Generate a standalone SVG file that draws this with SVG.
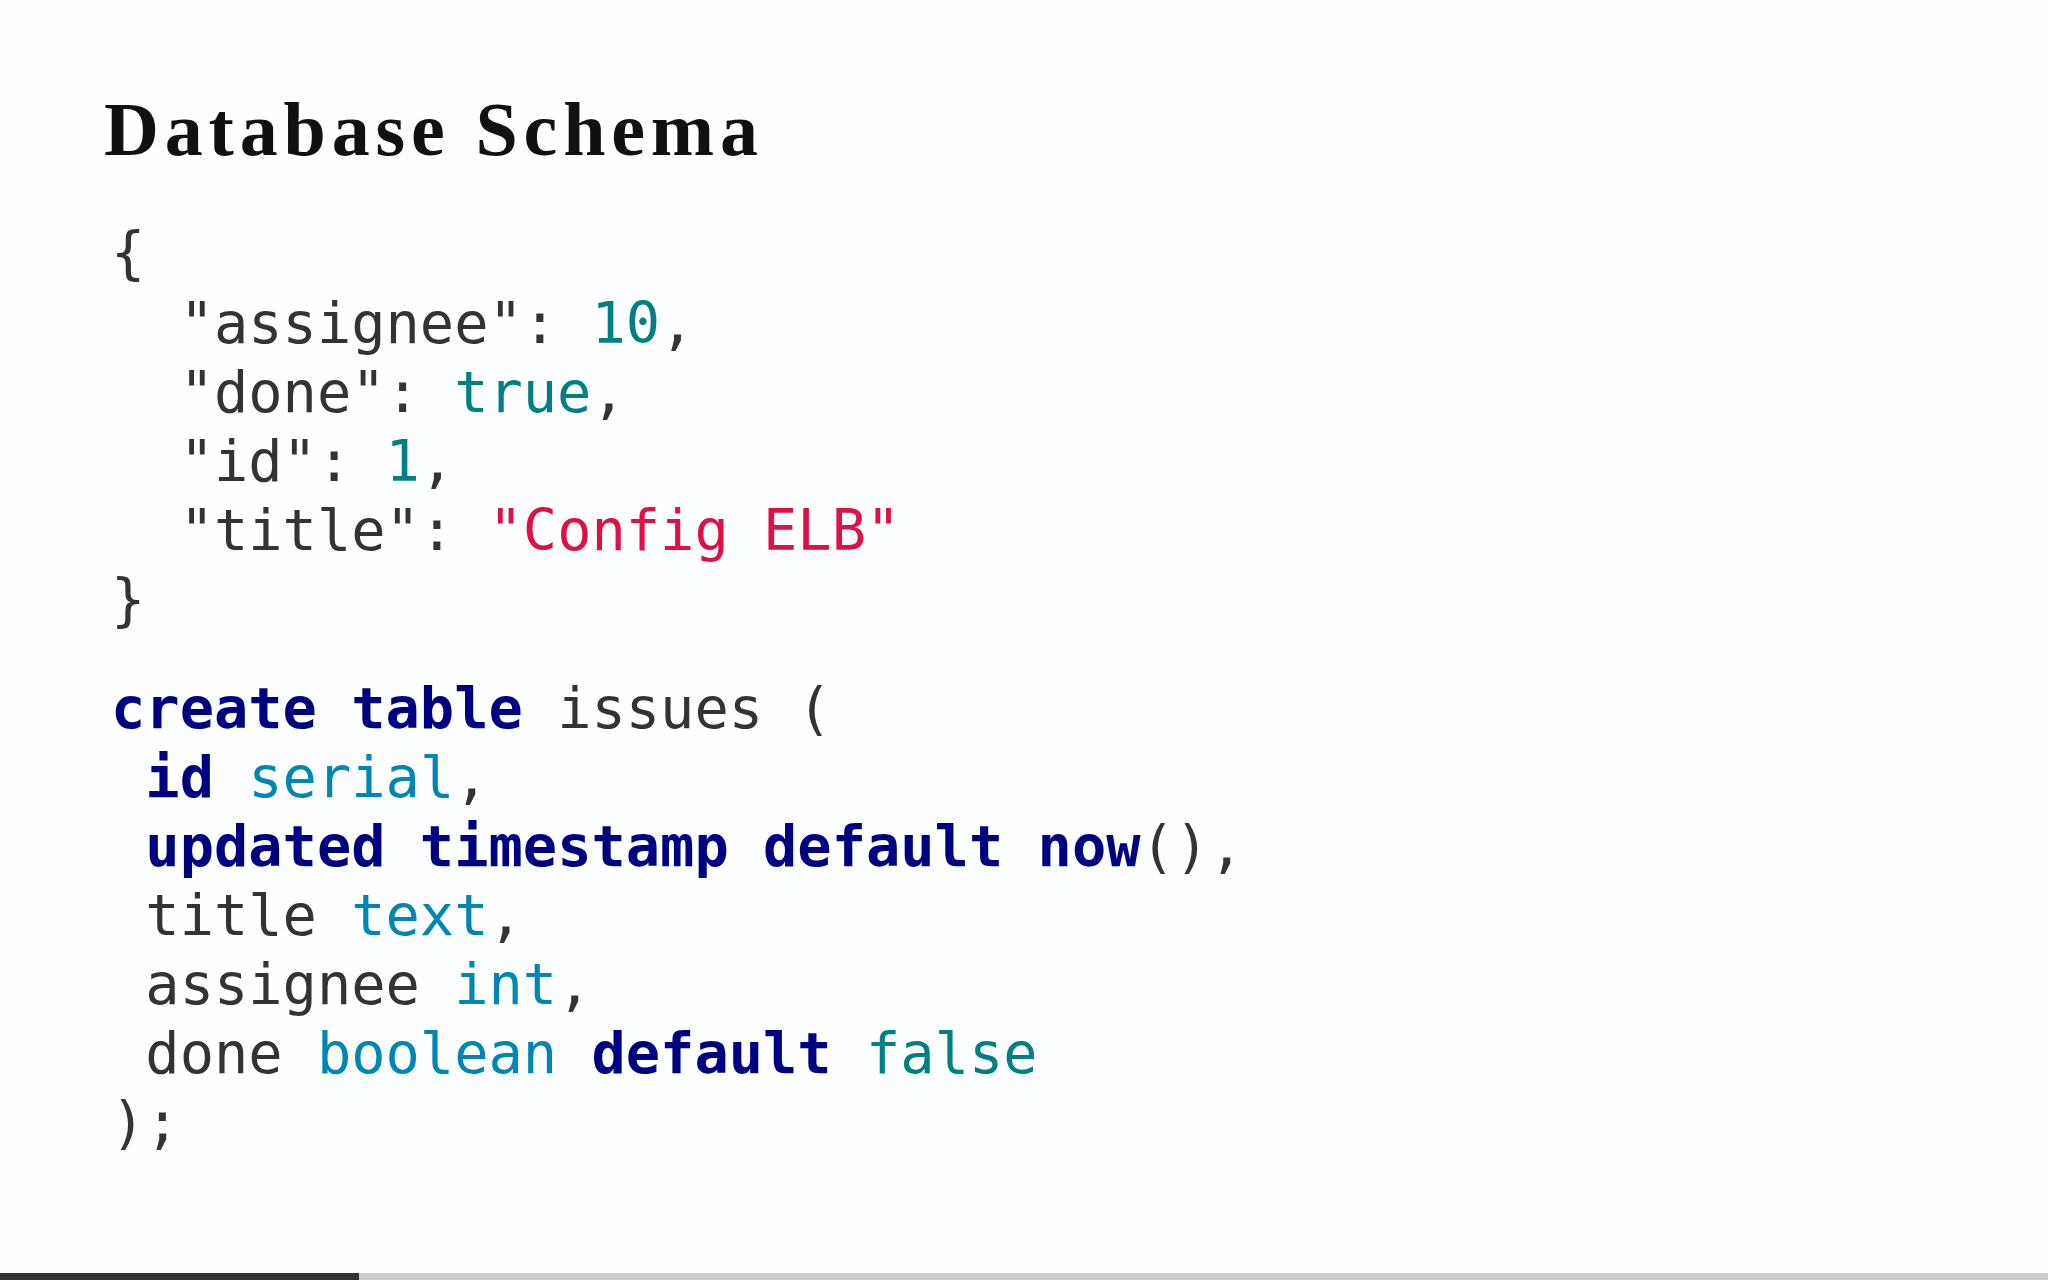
<svg xmlns="http://www.w3.org/2000/svg" width="2048" height="1280" viewBox="0 0 2048 1280">
<style>
.t{font-family:"Liberation Serif","DejaVu Serif",serif;font-weight:bold;font-size:76px;fill:#111}
.c{font-family:"DejaVu Sans Mono",monospace;font-size:57px;fill:#333;white-space:pre}
.k{fill:#000080;font-weight:bold}
.n{fill:#008080}
.s{fill:#dd1144}
.y{fill:#0086b3}
</style>
<rect width="2048" height="1280" fill="#fcfeff"/>
<g id="title"><text class="t" x="104" y="155" textLength="654">Database Schema</text></g>
<g id="json">
<text class="c" x="111" y="272">{</text>
<text class="c" x="111" y="343">  "assignee": <tspan class="n">10</tspan>,</text>
<text class="c" x="111" y="412">  "done": <tspan class="n">true</tspan>,</text>
<text class="c" x="111" y="481">  "id": <tspan class="n">1</tspan>,</text>
<text class="c" x="111" y="550">  "title": <tspan class="s">"Config ELB"</tspan></text>
<text class="c" x="111" y="619">}</text>
</g>
<g id="sql">
<text class="c" x="111" y="728"><tspan class="k">create table</tspan> issues (</text>
<text class="c" x="111" y="797"> <tspan class="k">id</tspan> <tspan class="y">serial</tspan>,</text>
<text class="c" x="111" y="866"> <tspan class="k">updated timestamp default now</tspan>(),</text>
<text class="c" x="111" y="935"> title <tspan class="y">text</tspan>,</text>
<text class="c" x="111" y="1004"> assignee <tspan class="y">int</tspan>,</text>
<text class="c" x="111" y="1073"> done <tspan class="y">boolean</tspan> <tspan class="k">default</tspan> <tspan class="n">false</tspan></text>
<text class="c" x="111" y="1142">);</text>
</g>
<rect x="0" y="1273" width="2048" height="7" fill="#cccccc"/>
<rect x="0" y="1273" width="359" height="7" fill="#333333"/>
</svg>
